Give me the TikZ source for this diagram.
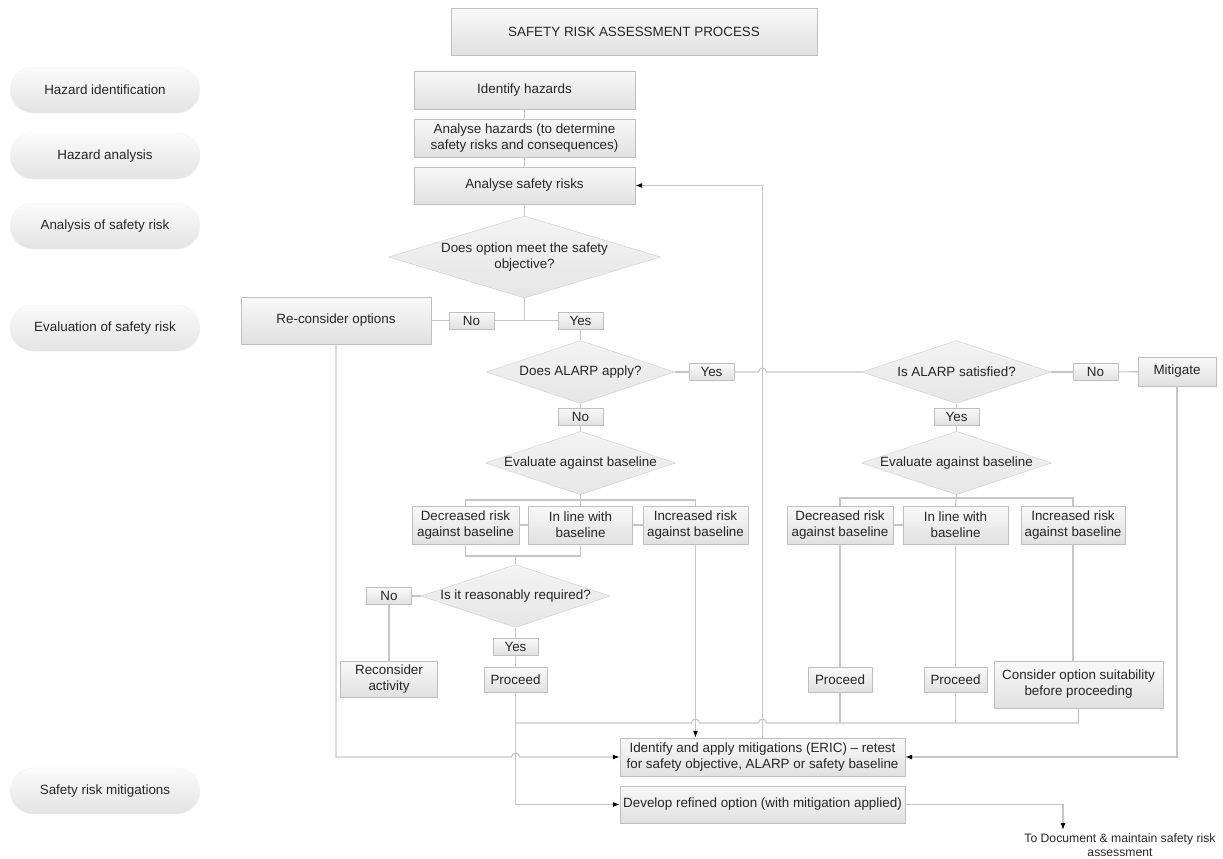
\documentclass[tikz,border=0pt]{standalone}
\usepackage{fontspec}
\setmainfont{Liberation Sans}
\usetikzlibrary{arrows.meta,shapes.geometric}

\tikzset{
  stage/.style={rectangle, rounded corners=23pt, minimum width=190, minimum height=46, top color=gray!3, bottom color=gray!22, draw=gray!10},
  procbox/.style={rectangle, draw=gray!50, top color=gray!5, bottom color=gray!24, align=center, inner sep=1pt},
  answer/.style={procbox, minimum width=45, minimum height=17},
  decision/.style={diamond, aspect=3, inner sep=0pt, draw=gray!40, top color=gray!9, bottom color=gray!20, align=center},
  flow/.style={draw=gray!45, line width=1.1pt},
  arr/.style={-{Latex[length=7pt,width=5pt,color=black]}},
}

\begin{document}
\begin{tikzpicture}[x=1pt, y=-1pt, font=\fontsize{13.4}{16}\selectfont, text=black!85]
        \useasboundingbox (0,0) rectangle (1223,859);

        % left side stages
        \node[stage] (hazId) at (105,90) {Hazard identification};
        \node[stage] (hazAna) at (105,156) {Hazard analysis};
        \node[stage] (riskAna) at (105,226) {Analysis of safety risk};
        \node[stage] (riskEval) at (105,328) {Evaluation of safety risk};
        \node[stage] (riskMit) at (105,791) {Safety risk mitigations};

        % title
        \node[procbox, minimum width=366, minimum height=47] (title) at (634,32) {SAFETY RISK ASSESSMENT PROCESS};

        % main column
        \node[procbox, minimum width=221, minimum height=38] (identify) at (524.5,90) {Identify hazards};
        \node[procbox, minimum width=221, minimum height=38] (analyseHaz) at (524.5,138) {Analyse hazards (to determine\\safety risks and consequences)};
        \node[procbox, minimum width=221, minimum height=37] (analyseRisk) at (524.5,185.5) {Analyse safety risks};
        \node[decision, aspect=3.3, minimum width=272, minimum height=82] (meetObj) at (524.5,257) {Does option meet the safety\\objective?};
        \node[procbox, minimum width=190, minimum height=47] (reconsider) at (336,320.5) {Re-consider options};
        \node[answer] (no1) at (471.5,320.5) {No};
        \node[answer] (yes1) at (580.5,320.5) {Yes};

        % left branch (ALARP does not apply)
        \node[decision, minimum width=188, minimum height=63] (alarpApply) at (580.5,372) {Does ALARP apply?};
        \node[answer] (yes2) at (711.5,372) {Yes};
        \node[answer] (no2) at (580.5,416.5) {No};
        \node[decision, minimum width=188, minimum height=61] (evalL) at (580.5,463) {Evaluate against baseline};
        \node[procbox, minimum width=107, minimum height=38] (decL) at (465.5,525) {Decreased risk\\against baseline};
        \node[procbox, minimum width=104, minimum height=38] (inlineL) at (580.5,525) {In line with\\baseline};
        \node[procbox, minimum width=105, minimum height=38] (incL) at (695.5,525) {Increased risk\\against baseline};
        \node[decision, minimum width=189, minimum height=63] (reqd) at (515.5,596) {Is it reasonably required?};
        \node[answer] (no3) at (389,596) {No};
        \node[procbox, minimum width=97, minimum height=36] (reconsAct) at (389,679) {Reconsider\\activity};
        \node[answer] (yes3) at (515.5,646.5) {Yes};
        \node[procbox, minimum width=63, minimum height=25] (proceedL) at (515.5,679.5) {Proceed};

        % right branch (ALARP applies)
        \node[decision, minimum width=189, minimum height=63] (alarpSat) at (956.5,372) {Is ALARP satisfied?};
        \node[answer] (no4) at (1095.5,372) {No};
        \node[procbox, minimum width=78, minimum height=29] (mitigate) at (1177,371.5) {Mitigate};
        \node[answer] (yes4) at (956.5,416.5) {Yes};
        \node[decision, minimum width=189, minimum height=61] (evalR) at (956.5,463) {Evaluate against baseline};
        \node[procbox, minimum width=106, minimum height=38] (decR) at (840,525) {Decreased risk\\against baseline};
        \node[procbox, minimum width=105, minimum height=38] (inlineR) at (955.5,525) {In line with\\baseline};
        \node[procbox, minimum width=104, minimum height=38] (incR) at (1073,525) {Increased risk\\against baseline};
        \node[procbox, minimum width=64, minimum height=25] (proceedR1) at (840,679.5) {Proceed};
        \node[procbox, minimum width=63, minimum height=25] (proceedR2) at (955.5,679.5) {Proceed};
        \node[procbox, minimum width=169, minimum height=47] (consider) at (1078.5,684.5) {Consider option suitability\\before proceeding};

        % mitigations
        \node[procbox, minimum width=285, minimum height=38] (mitig) at (762.5,757) {Identify and apply mitigations (ERIC) -- retest\\for safety objective, ALARP or safety baseline};
        \node[procbox, minimum width=285, minimum height=37] (develop) at (762.5,804.5) {Develop refined option (with mitigation applied)};
        \node[align=center, font=\fontsize{12.2}{14.5}\selectfont] (docText) at (1120,845) {To Document \& maintain safety risk\\assessment};
        \coordinate (docIn) at (1063,830);

        % arcs down the main column
        \draw[flow] (identify) -- (analyseHaz);
        \draw[flow] (analyseHaz) -- (analyseRisk);
        \draw[flow] (analyseRisk) -- (meetObj);
        \draw[flow] (meetObj.south) -- (meetObj.south |- no1.east);
        \draw[flow] (reconsider) -- (no1);
        \draw[flow] (no1) -- (yes1);
        \draw[flow] (yes1) -- (alarpApply);

        % arcs of the left branch
        \draw[flow] (alarpApply) -- (yes2);
        \draw[flow] (yes2.east) -- (758.5,372) arc[start angle=180, end angle=0, radius=4pt] -- (alarpSat.west);
        \draw[flow] (alarpApply) -- (no2);
        \draw[flow] (no2) -- (evalL);
        \draw[flow] (evalL.south) -- (inlineL.north);
        \draw[flow] (decL.north) |- (580.5,500) -| (incL.north);
        \draw[flow] (decL) -- (inlineL);
        \draw[flow] (inlineL) -- (incL);
        \draw[flow] (decL.south) |- (515.5,556) -| (inlineL.south);
        \draw[flow] (reqd.north) -- (515.5,556);
        \draw[flow] (no3) -- (reqd);
        \draw[flow] (no3) -- (reconsAct);
        \draw[flow] (reqd) -- (yes3);
        \draw[flow] (yes3) -- (proceedL);

        % arcs of the right branch
        \draw[flow] (alarpSat) -- (no4);
        \draw[flow] (no4) -- (mitigate);
        \draw[flow] (alarpSat) -- (yes4);
        \draw[flow] (yes4) -- (evalR);
        \draw[flow] (evalR.south) -- (inlineR.north);
        \draw[flow] (decR.north) |- (956.5,498) -| (incR.north);
        \draw[flow] (decR) -- (inlineR);
        \draw[flow] (decR) -- (proceedR1);
        \draw[flow] (inlineR) -- (proceedR2);
        \draw[flow] (incR.south) -- (incR.south |- consider.north);
        \draw[flow] (proceedR1.south) -- (840,723);
        \draw[flow] (proceedR2.south) -- (955.5,723);
        \draw[flow] (consider.south) |- (766.5,723) arc[start angle=0, end angle=180, radius=4pt]
            -- (699.5,723) arc[start angle=0, end angle=180, radius=4pt] -- (515.5,723);

        % arcs into the mitigation boxes
        \draw[flow, arr] (incL.south) -- (incL.south |- mitig.north);
        \draw[flow, arr] (mitig.north) |- (analyseRisk.east);
        \draw[flow, arr] (reconsider.south) |- (511.5,757) arc[start angle=180, end angle=0, radius=4pt] -- (mitig.west);
        \draw[flow, arr] (mitigate.south) |- (mitig.east);
        \draw[flow, arr] (proceedL.south) |- (develop.west);
        \draw[flow, arr] (develop.east) -| (docIn);

    \end{tikzpicture}
\end{document}
